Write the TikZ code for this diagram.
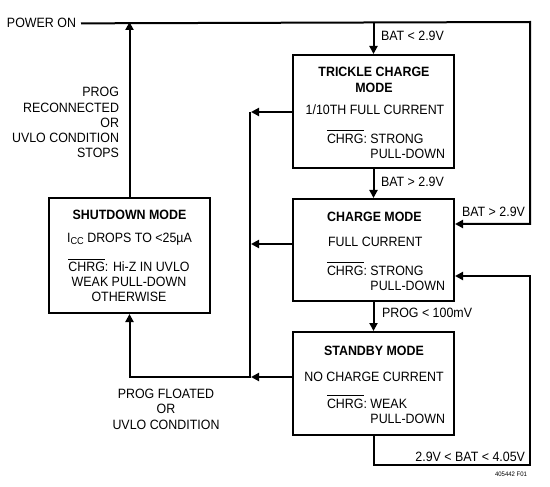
\documentclass[tikz,border=0pt]{standalone}
\usepackage{fontspec}
\setmainfont{Liberation Sans}[FakeStretch=0.92]
\usetikzlibrary{arrows.meta}
\newcommand\chrgbar{\setbox0\hbox{CHRG}\rlap{\raisebox{\dimexpr\ht0+3pt\relax}{\rule{\wd0}{1pt}}}\box0}
\newcommand\ctab[1]{\begin{tabular}[t]{@{}c@{}}#1\end{tabular}}
\newcommand\rtab[1]{\begin{tabular}[t]{@{}r@{}}#1\end{tabular}}
\newcommand\chrgtab[2]{\begin{tabular}[t]{@{}l@{}l@{}}\chrgbar:\ \mbox{} & #1\\ & #2\end{tabular}}
\begin{document}
\begin{tikzpicture}[x=1pt,y=-1pt,line width=2pt,
  font=\fontsize{13.5}{15.5}\selectfont,
  modebox/.style={draw,line width=2pt,minimum width=161pt,inner sep=0pt},
  txt/.style={inner sep=0pt},
  arr/.style={-{Triangle[length=8pt,width=8pt]}}]
\useasboundingbox (0,0) rectangle (550,487);
% boxes
\node[modebox,minimum height=113pt] (trickle) at (373.5,111.5) {};
\node[modebox,minimum height=102pt] (charge) at (373.5,250) {};
\node[modebox,minimum height=103pt] (standby) at (373.5,383.5) {};
\node[modebox,minimum height=115pt] (shutdown) at (129.5,255.5) {};
% box texts
\node[txt,anchor=base] (ttitle) at (374,77) {\bfseries\ctab{TRICKLE CHARGE\\MODE}};
\node[txt,anchor=base] (tdesc) at (375,115) {1/10TH FULL CURRENT};
\node[txt,anchor=base west] (tchrg) at (326,143) {\chrgtab{STRONG}{PULL-DOWN}};
\node[txt,anchor=base] (ctitle) at (374.5,222) {\bfseries CHARGE MODE};
\node[txt,anchor=base west] (cdesc) at (327,247) {FULL CURRENT};
\node[txt,anchor=base west] (cchrg) at (326,275) {\chrgtab{STRONG}{PULL-DOWN}};
\node[txt,anchor=base] (stitle) at (374,355) {\bfseries STANDBY MODE};
\node[txt,anchor=base] (sdesc) at (374,381) {NO CHARGE CURRENT};
\node[txt,anchor=base west] (schrg) at (326,408) {\chrgtab{WEAK}{PULL-DOWN}};
\node[txt,anchor=base] (dtitle) at (129.5,219) {\bfseries SHUTDOWN MODE};
\node[txt,anchor=base] (ddesc) at (129.5,242) {I\raisebox{-2.5pt}{\fontsize{10}{10}\selectfont CC} DROPS TO <25µA};
\node[txt,anchor=base] (dchrg) at (129,272) {\fontsize{13.5}{15}\selectfont\ctab{\chrgbar: Hi-Z IN UVLO\\WEAK PULL-DOWN\\OTHERWISE}};
% power on
\node[inner xsep=4pt,inner ysep=0pt,anchor=base east] (pon) at (81,28) {POWER ON};
\coordinate (pe) at (530,22);
\coordinate (pe2) at (530,224);
\coordinate (sb2) at (530,465);
\coordinate (sb3) at (530,276);
\coordinate (bt) at (251,112);
\coordinate (bm) at (251,244);
\coordinate (bb) at (251,377);
\coordinate (bl) at (250,112);
\coordinate (bl2) at (250,377);
% connectors
\draw[arr] (pon.east) -- (pe) -- (pe2) -- (charge.east |- pe2);
\draw[arr] (trickle.north |- pe) -- (trickle.north);
\draw[arr] (shutdown.north) -- (shutdown.north |- pe);
\draw[arr] (trickle.south) -- (charge.north);
\draw[arr] (charge.south) -- (standby.north);
\draw[arr] (standby.south) -- (standby.south |- sb2) -- (sb2) -- (sb3) -- (charge.east |- sb3);
\draw[arr] (trickle.west |- bt) -- (bt);
\draw[arr] (charge.west |- bm) -- (bm);
\draw[arr] (standby.west |- bb) -- (bb);
\draw[arr] (bl) -- (bl2) -- (shutdown.south |- bl2) -- (shutdown.south);
% labels
\node[txt,anchor=base west] (l1) at (380,41) {BAT < 2.9V};
\node[txt,anchor=base west] (l2) at (380,186) {BAT > 2.9V};
\node[txt,anchor=base east] (l3) at (526,217) {BAT > 2.9V};
\node[txt,anchor=base west] (l4) at (381,317) {PROG < 100mV};
\node[txt,anchor=base east] (l5) at (526,461) {2.9V < BAT < 4.05V};
\node[txt,anchor=base east] (l6) at (120,97) {\fontsize{13.5}{15.25}\selectfont\rtab{PROG\\RECONNECTED\\OR\\UVLO CONDITION\\STOPS}};
\node[txt,anchor=base] (l7) at (166,398) {\ctab{PROG FLOATED\\OR\\UVLO CONDITION}};
\node[txt,anchor=base east] (code) at (528,476) {\fontsize{6.5}{7}\selectfont 405442 F01};
\end{tikzpicture}
\end{document}
